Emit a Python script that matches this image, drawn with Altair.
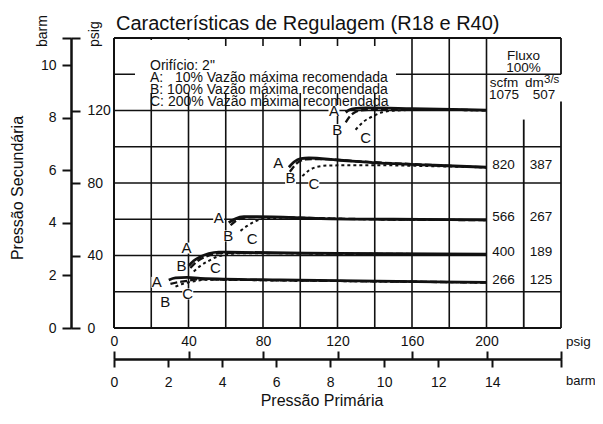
import altair as alt
import pandas as pd

PSI_PER_BAR = 14.5038
INK = "#111111"
FONT = "Liberation Sans"
X_MAX = 240
Y_MAX = 160

# ---------------- text ----------------
title_text = "Características de Regulagem (R18 e R40)"
legend_lines = [
    'Orifício: 2"',
    "A:\u00a0\u00a0\u00a010% Vazão máxima recomendada",
    "B: 100% Vazão máxima recomendada",
    "C: 200% Vazão máxima recomendada",
]

# ---------------- flow table (100 % flow) ----------------
flow_scfm = [1075, 820, 566, 400, 266]
flow_dm3s = [507, 387, 267, 189, 125]

# ---------------- axis ticks ----------------
psig_x_ticks = [0, 40, 80, 120, 160, 200, 240]
psig_y_ticks = [0, 40, 80, 120, 160]
barm_x_ticks = [0, 2, 4, 6, 8, 10, 12, 14]
barm_y_ticks = [0, 2, 4, 6, 8, 10]

# ---------------- grid (psig) ----------------
grid_x = [20, 40, 60, 80, 100, 120, 140, 160, 180, 200]
grid_y = [20, 40, 60, 80, 100, 120, 140]
grid_y_end = [240, 200, 200, 240, 240, 200, 240]
table_rule_x = [220, 240, 240]
table_rule_y0 = [0, 0, 140]
table_rule_y1 = [115, 125, 160]

# ---------------- curves: (primary psig, secondary psig) ----------------
A_1075 = [(124.4, 119.0), (126.5, 120.4), (130, 121.2), (136, 121.4), (160, 121.0), (200, 120.2)]
B_1075 = [(124.4, 113.5), (126.7, 116.8), (129.4, 119.0), (132.4, 120.0), (145, 120.8), (200, 120.1)]
C_1075 = [(129.7, 109.4), (134.2, 114.0), (139.6, 117.1), (144, 119.0), (150.2, 119.9), (165, 120.4), (200, 120.0)]

A_820 = [(93.9, 88.7), (96.6, 91.6), (100.2, 93.5), (104.6, 93.8), (119.9, 92.7), (141.4, 91.1), (171.8, 89.8), (200, 88.7)]
B_820 = [(94.4, 86.2), (98.4, 91.1), (102.8, 93.0), (110, 93.2), (130, 92.0), (200, 88.6)]
C_820 = [(101.1, 83.8), (104.6, 86.9), (109.1, 88.9), (116.3, 89.7), (141.4, 89.8), (170, 89.3), (200, 88.6)]

A_566 = [(61.6, 58.1), (65.2, 60.3), (69.7, 61.4), (76.9, 61.4), (110.9, 60.4), (150, 60.0), (200, 59.6)]
B_566 = [(62.6, 56.7), (66.1, 59.6), (70.6, 60.9), (80, 61.2), (120, 60.3), (200, 59.5)]
C_566 = [(67.9, 53.6), (71.5, 56.3), (75.1, 58.5), (80.4, 60.3), (90, 60.8), (130, 60.1), (200, 59.5)]

A_400 = [(40.1, 34.3), (42.8, 37.1), (46.4, 39.3), (50.9, 41.1), (56.2, 41.9), (61.6, 41.8), (120, 41.2), (200, 40.8)]
B_400 = [(41.0, 33.1), (44.6, 36.7), (49.1, 39.3), (53.5, 40.8), (60, 41.5), (120, 41.0), (200, 40.7)]
C_400 = [(42.8, 31.2), (46.4, 34.3), (50.9, 37.1), (55.4, 39.3), (59.8, 40.4), (68, 41.3), (120, 41.0), (200, 40.7)]

A_266 = [(29.4, 26.5), (33.0, 27.6), (39.2, 27.9), (46.4, 27.4), (89.4, 26.5), (120, 26.1), (200, 25.2)]
B_266 = [(30.3, 24.3), (33.9, 25.2), (37.4, 25.7), (45, 26.8), (90, 26.3), (200, 25.1)]
C_266 = [(33.0, 22.8), (36.6, 24.3), (40.1, 25.2), (50, 26.6), (90, 26.2), (200, 25.1)]

# curve letter labels (psig)
label_A_x = [118.1, 88.2, 56.2, 38.9, 23.0]
label_A_y = [120.0, 91.1, 60.5, 44.1, 25.2]
label_B_x = [119.9, 94.8, 61.3, 36.2, 27.5]
label_B_y = [109.5, 82.5, 50.8, 34.3, 14.2]
label_C_x = [135.1, 107.3, 74.2, 54.5, 39.6]
label_C_y = [104.8, 79.6, 49.0, 33.1, 18.8]

# ---------------- tables ----------------
curve_sets = {
    "1075": {"A": A_1075, "B": B_1075, "C": C_1075},
    "820": {"A": A_820, "B": B_820, "C": C_820},
    "566": {"A": A_566, "B": B_566, "C": C_566},
    "400": {"A": A_400, "B": B_400, "C": C_400},
    "266": {"A": A_266, "B": B_266, "C": C_266},
}
rows = []
for g, cs in curve_sets.items():
    for c, pts in cs.items():
        for i, (px, py) in enumerate(pts):
            rows.append({"group": g, "curve": c, "order": i, "x": px, "y": py})
df_curves = pd.DataFrame(rows)

lab_rows = []
for letter, xs_, ys_ in (("A", label_A_x, label_A_y), ("B", label_B_x, label_B_y), ("C", label_C_x, label_C_y)):
    for lx, ly in zip(xs_, ys_):
        lab_rows.append({"t": letter, "x": lx, "y": ly})
df_labels = pd.DataFrame(lab_rows)

df_vgrid = pd.DataFrame({"x": grid_x, "y0": [0] * len(grid_x), "y1": [Y_MAX] * len(grid_x)})
df_hgrid = pd.DataFrame({"y": grid_y, "x0": [0] * len(grid_y), "x1": grid_y_end})
df_trules = pd.DataFrame({"x": table_rule_x, "y0": table_rule_y0, "y1": table_rule_y1})
df_hborder = pd.DataFrame({"y": [0, Y_MAX], "x0": [0, 0], "x1": [X_MAX, X_MAX]})
df_vborder = pd.DataFrame({"x": [0], "y0": [0], "y1": [Y_MAX]})

ends = [cs["A"][-1][1] for cs in curve_sets.values()]
df_table = pd.DataFrame({"scfm": [str(v) for v in flow_scfm[1:]],
                         "dm3s": [str(v) for v in flow_dm3s[1:]],
                         "y": ends[1:]})

# ---------------- scales & axes ----------------
xs = alt.Scale(domain=[0, X_MAX], nice=False, zero=False)
ys = alt.Scale(domain=[0, Y_MAX], nice=False, zero=False)

axis_style = dict(domainColor=INK, domainWidth=2, tickColor=INK, tickWidth=2,
                  labelColor=INK, labelFont=FONT, labelFontSize=14, grid=False,
                  title=None, labelFlush=False, labelOverlap=False)

ax_psig_top = alt.Axis(orient="top", offset=-321, values=psig_x_ticks, tickSize=8, labelPadding=3,
                       labelExpr="datum.value > 230 ? '' : datum.label", **axis_style)
ax_barm_bottom = alt.Axis(orient="bottom", offset=31,
                          values=[b * PSI_PER_BAR for b in barm_x_ticks] + [X_MAX],
                          tickSize=8, labelPadding=8,
                          labelExpr="datum.value > 220 ? '' : format(round(datum.value / 14.5038), 'd')",
                          **axis_style)
ax_barm_left = alt.Axis(orient="left", offset=43,
                        values=[b * PSI_PER_BAR for b in barm_y_ticks] + [Y_MAX],
                        tickSize=9, labelPadding=6,
                        labelExpr="datum.value > 150 ? '' : format(round(datum.value / 14.5038), 'd')",
                        **axis_style)
ax_psig_right = alt.Axis(orient="right", offset=-490, values=psig_y_ticks, tickSize=9, labelPadding=7,
                         labelExpr="datum.value > 150 ? '' : datum.label", **axis_style)

# ---------------- layers ----------------
vgrid = alt.Chart(df_vgrid).mark_rule(color=INK, strokeWidth=1.6).encode(
    x=alt.X("x:Q", scale=xs, axis=ax_psig_top),
    y=alt.Y("y0:Q", scale=ys, axis=ax_barm_left), y2="y1:Q")

hgrid = alt.Chart(df_hgrid).mark_rule(color=INK, strokeWidth=1.6).encode(
    y=alt.Y("y:Q", scale=ys, axis=ax_psig_right),
    x=alt.X("x0:Q", scale=xs, axis=ax_barm_bottom), x2="x1:Q")

trules = alt.Chart(df_trules).mark_rule(color=INK, strokeWidth=1.8).encode(
    x=alt.X("x:Q", scale=xs, axis=None), y=alt.Y("y0:Q", scale=ys, axis=None), y2="y1:Q")

# white background behind the legend block (covers the grid there)
one = pd.DataFrame({"k": [0]})
legend_bg_1 = alt.Chart(one).mark_rect(color="white").encode(
    x=alt.value(21), x2=alt.value(101), y=alt.value(2), y2=alt.value(17))
legend_bg_2 = alt.Chart(one).mark_rect(color="white").encode(
    x=alt.value(21), x2=alt.value(282), y=alt.value(8), y2=alt.value(55))

legend_df = pd.DataFrame({"t": ["\n".join(legend_lines)]})
legend_text = alt.Chart(legend_df).mark_text(
    align="left", baseline="middle", font=FONT, fontSize=14, lineBreak="\n", lineHeight=11.9,
    color=INK).encode(x=alt.value(36), y=alt.value(28), text="t:N")

# white squares behind the curve letters (break the grid lines there)
lab_bg = alt.Chart(df_labels).mark_point(shape="square", filled=True, color="white", opacity=1, size=120).encode(
    x=alt.X("x:Q", scale=xs, axis=None), y=alt.Y("y:Q", scale=ys, axis=None))
lab_text = alt.Chart(df_labels).mark_text(font=FONT, fontSize=15, color=INK).encode(
    x=alt.X("x:Q", scale=xs, axis=None), y=alt.Y("y:Q", scale=ys, axis=None), text="t:N")


def curve_layer(c, **mk):
    return alt.Chart(df_curves[df_curves["curve"] == c]).mark_line(
        color=INK, interpolate="monotone", strokeCap="butt", **mk).encode(
        x=alt.X("x:Q", scale=xs, axis=None), y=alt.Y("y:Q", scale=ys, axis=None),
        detail="group:N", order="order:Q")


curve_C = curve_layer("C", strokeWidth=2.0, strokeDash=[3, 3])
curve_B = curve_layer("B", strokeWidth=2.3, strokeDash=[7, 3])
curve_A = curve_layer("A", strokeWidth=2.8)

hborder = alt.Chart(df_hborder).mark_rule(color=INK, strokeWidth=2).encode(
    y=alt.Y("y:Q", scale=ys, axis=None), x=alt.X("x0:Q", scale=xs, axis=None), x2="x1:Q")
vborder = alt.Chart(df_vborder).mark_rule(color=INK, strokeWidth=2).encode(
    x=alt.X("x:Q", scale=xs, axis=None), y=alt.Y("y0:Q", scale=ys, axis=None), y2="y1:Q")

table_scfm = alt.Chart(df_table).mark_text(font=FONT, fontSize=13.5, color=INK, dy=-2.5).encode(
    x=alt.value(389.5), y=alt.Y("y:Q", scale=ys, axis=None), text="scfm:N")
table_dm3s = alt.Chart(df_table).mark_text(font=FONT, fontSize=13.5, color=INK, dy=-2.5).encode(
    x=alt.value(427), y=alt.Y("y:Q", scale=ys, axis=None), text="dm3s:N")


def note(text, x, y, **mk):
    params = dict(font=FONT, fontSize=13.5, color=INK)
    params.update(mk)
    return alt.Chart(pd.DataFrame({"t": [text]})).mark_text(**params).encode(
        x=alt.value(x), y=alt.value(y), text="t:N")


notes = [
    note(title_text, 2, -8, fontSize=20, align="left", baseline="alphabetic"),
    note("Fluxo\n100%", 409.5, 18, lineBreak="\n", lineHeight=11.7, baseline="middle"),
    note("scfm", 390, 45, baseline="middle"),
    note("dm", 411, 45, align="left", baseline="middle"),
    note("3/s", 430, 41.5, align="left", baseline="middle", fontSize=11.5),
    note(str(flow_scfm[0]), 390, 57, baseline="middle"),
    note(str(flow_dm3s[0]), 430, 57, baseline="middle"),
    note("barm", -71.5, 9, angle=270, align="left", baseline="middle", fontSize=14),
    note("psig", -19, 9, angle=270, align="left", baseline="middle", fontSize=14),
    note("Pressão Secundária", -96, 150, angle=270, align="center", baseline="middle", fontSize=16),
    note("psig", 452, 304, align="left", baseline="middle", fontSize=13.5),
    note("barm", 452, 343, align="left", baseline="middle", fontSize=13),
    note("Pressão Primária", 208, 363, align="center", baseline="middle", fontSize=16),
]

chart = alt.layer(
    vgrid, hgrid, trules, legend_bg_1, legend_bg_2, lab_bg,
    curve_C, curve_B, curve_A,
    hborder, vborder, legend_text, lab_text, table_scfm, table_dm3s, *notes
).resolve_axis(x="independent", y="independent").properties(
    width=447, height=290,
    padding={"left": 106, "top": 30, "right": 34, "bottom": 83},
    autosize=alt.AutoSizeParams(type="none"),
    background="white",
).configure_view(stroke=None)

chart.save("out.html", embed_options={"renderer": "svg", "actions": False})
